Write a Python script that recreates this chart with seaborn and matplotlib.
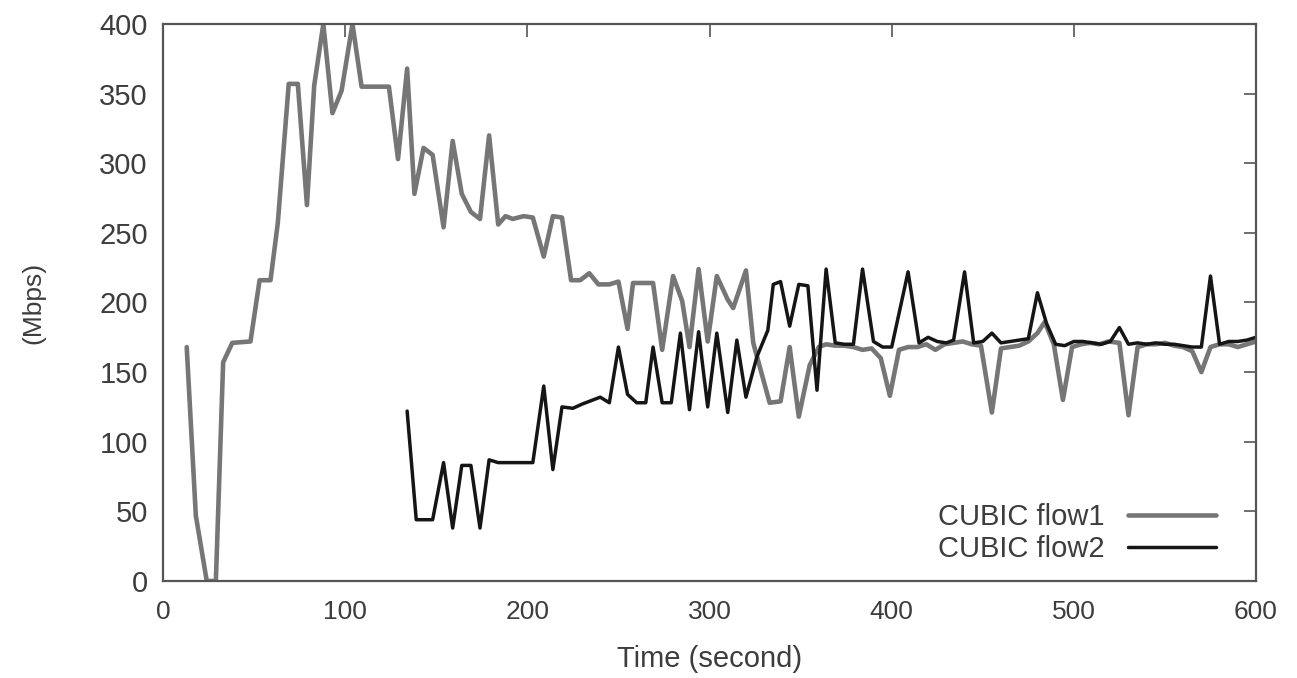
import matplotlib
matplotlib.use("Agg")
import matplotlib.pyplot as plt
import seaborn as sns
import pandas as pd

# ── Dữ liệu ──
flow1_t = [13, 18, 24, 29, 33, 38, 48, 53, 59, 63, 69, 74, 79, 83, 88, 93, 98, 104, 109,
           124, 129, 134, 138, 143, 148, 154, 159, 164, 169, 174, 179, 184, 188, 192, 198,
           203, 209, 214, 219, 224, 229, 234, 239, 245, 250, 255, 258, 264, 269, 274, 280,
           285, 289, 294, 299, 304, 310, 313, 320, 324, 333, 339, 344, 349, 355, 360, 364,
           369, 374, 379, 384, 389, 394, 399, 404, 409, 414, 419, 424, 429, 434, 439, 444,
           449, 455, 460, 465, 470, 475, 480, 484, 489, 494, 499, 504, 509, 514, 519, 525,
           530, 535, 540, 545, 550, 555, 560, 565, 570, 575, 580, 585, 590, 595, 600]
flow1_v = [168, 47, 0, 0, 157, 171, 172, 216, 216, 257, 357, 357, 270, 356, 400, 336, 352, 400, 355,
           355, 303, 368, 278, 311, 306, 254, 316, 278, 265, 260, 320, 256, 262, 260, 262,
           261, 233, 262, 261, 216, 216, 221, 213, 213, 215, 181, 214, 214, 214, 166, 219,
           201, 168, 224, 172, 219, 202, 196, 223, 171, 128, 129, 168, 118, 155, 168, 170,
           169, 169, 168, 166, 167, 160, 133, 166, 168, 168, 170, 166, 170, 171, 172, 170,
           169, 121, 167, 168, 169, 172, 178, 186, 170, 130, 168, 170, 171, 170, 172, 171,
           119, 168, 170, 170, 171, 169, 168, 165, 150, 168, 170, 170, 168, 170, 172]

flow2_t = [134, 139, 148, 154, 159, 164, 169, 174, 179, 184, 190, 198, 203, 209, 214, 219, 225,
           230, 236, 240, 245, 250, 255, 260, 265, 269, 274, 279, 284, 289, 294, 299, 304,
           310, 315, 320, 326, 332, 335, 339, 344, 349, 354, 359, 364, 369, 374, 379, 384,
           390, 395, 400, 409, 415, 420, 425, 430, 434, 440, 445, 450, 455, 460, 465, 470,
           475, 480, 485, 490, 495, 500, 505, 510, 515, 520, 525, 530, 535, 540, 545, 550,
           555, 560, 565, 570, 575, 580, 585, 590, 595, 600]
flow2_v = [122, 44, 44, 85, 38, 83, 83, 38, 87, 85, 85, 85, 85, 140, 80, 125, 124,
           127, 130, 132, 128, 168, 134, 128, 128, 168, 128, 128, 178, 123, 179, 125, 178,
           121, 173, 132, 161, 180, 213, 215, 183, 213, 212, 137, 224, 171, 170, 170, 224,
           172, 168, 168, 222, 171, 175, 172, 171, 173, 222, 171, 172, 178, 171, 172, 173,
           174, 207, 185, 170, 169, 172, 172, 171, 170, 172, 182, 170, 171, 170, 171, 170,
           170, 169, 168, 168, 219, 170, 172, 172, 173, 175]

labels = ["CUBIC flow1", "CUBIC flow2"]
x_ticks = [0, 100, 200, 300, 400, 500, 600]
y_ticks = [0, 50, 100, 150, 200, 250, 300, 350, 400]

df1 = pd.DataFrame({"t": flow1_t, "v": flow1_v})
df2 = pd.DataFrame({"t": flow2_t, "v": flow2_v})

sns.set_theme(style="white")
plt.rcParams["font.family"] = ["Liberation Sans", "DejaVu Sans"]

fig = plt.figure(figsize=(12.97, 6.78), dpi=100)
ax = fig.add_axes([0.1257, 0.1431, 0.8427, 0.8215])

sns.lineplot(data=df1, x="t", y="v", ax=ax, color="#767676", linewidth=3.3,
             label=labels[0], estimator=None, sort=False)
sns.lineplot(data=df2, x="t", y="v", ax=ax, color="#151515", linewidth=2.5,
             label=labels[1], estimator=None, sort=False)

ax.set_xlim(0, 600)
ax.set_ylim(0, 400)
ax.set_xticks(x_ticks)
ax.set_yticks(y_ticks)

tick_color = "#3d3d3d"
ax.tick_params(direction="in", top=True, right=True, length=9, width=1.2,
               color="#555555", labelcolor=tick_color)
ax.tick_params(axis="y", labelsize=21, pad=11)
ax.tick_params(axis="x", labelsize=19, pad=14)
for sp in ax.spines.values():
    sp.set_color("#555555")
    sp.set_linewidth(1.6)

ax.set_xlabel("Time (second)", fontsize=21, color=tick_color, labelpad=15)
ax.set_ylabel("(Mbps)", fontsize=19, color=tick_color)
ax.yaxis.set_label_coords(-0.108, 0.5)

leg = ax.legend(loc="lower right", bbox_to_anchor=(0.979, 0.0), frameon=False,
                markerfirst=False, fontsize=21, handlelength=3.0,
                labelspacing=0.15, handletextpad=0.8, borderaxespad=0.2)
for txt in leg.get_texts():
    txt.set_color(tick_color)

fig.savefig("out.png", dpi=100)
